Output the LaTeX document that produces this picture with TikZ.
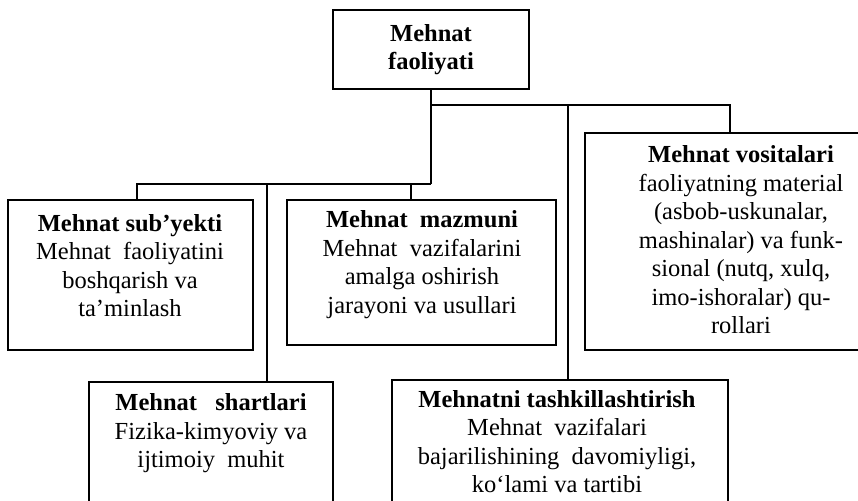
\documentclass[tikz,border=0pt]{standalone}
\usepackage{fontspec}
\setmainfont{Liberation Serif}
\begin{document}
\begin{tikzpicture}[x=1pt,y=-1pt,
  box/.style={draw, line width=2.9pt, rectangle, inner sep=0pt},
  txt/.style={align=center, inner sep=0pt, font=\fontsize{24.5}{28.5}\selectfont},
  link/.style={line width=2.9pt}]
\useasboundingbox (0,0) rectangle (858,500);

% boxes
\node[box, txt, minimum width=196, minimum height=79] (top) at (431,49.5) {\textbf{Mehnat}\\\textbf{faoliyati}};
\node[box, minimum width=245, minimum height=150] (sub) at (130.5,275) {};
\node[box, minimum width=269, minimum height=145] (maz) at (421.5,272.5) {};
\node[box, minimum width=312, minimum height=217] (vos) at (741,241.5) {};
\node[box, minimum width=244, minimum height=138] (shart) at (211,451) {};
\node[box, minimum width=336, minimum height=140] (tash) at (560,450) {};

% texts
\node[txt] (subT) at (130,265.5) {\textbf{Mehnat sub’yekti}\\Mehnat\ \ faoliyatini\\boshqarish va\\ta’minlash};
\node[txt] (mazT) at (422,264.5) {\textbf{Mehnat\ \ mazmuni}\\Mehnat\ \ vazifalarini\\amalga oshirish\\jarayoni va usullari};
\node[txt] (vosT) at (741,240) {\textbf{Mehnat vositalari}\\faoliyatning material\\(asbob-uskunalar,\\mashinalar) va funk-\\sional (nutq, xulq,\\imo-ishoralar) qu-\\rollari};
\node[txt] (shartT) at (211,433.5) {\textbf{Mehnat\ \ \ shartlari}\\Fizika-kimyoviy va\\ijtimoiy\ \ muhit};
\node[txt] (tashT) at (557,441.5) {\textbf{Mehnatni tashkillashtirish}\\Mehnat\ \ vazifalari\\bajarilishining\ \ davomiyligi,\\ko‘lami va tartibi};

% connectors
\coordinate (j1) at (431,184);
\coordinate (j2) at (431,105);
\coordinate (b2) at (267,184);
\coordinate (b3) at (411,184);
\coordinate (b5) at (568,105);
\draw[link] (top.south) -- (j1);
\draw[link] (j1) -| ([xshift=6.5]sub.north);
\draw[link] (b2) -- (b2 |- shart.north);
\draw[link] (b3) -- (b3 |- maz.north);
\draw[link] (j2) -| ([xshift=-11]vos.north);
\draw[link] (b5) -- (b5 |- tash.north);
\end{tikzpicture}
\end{document}
